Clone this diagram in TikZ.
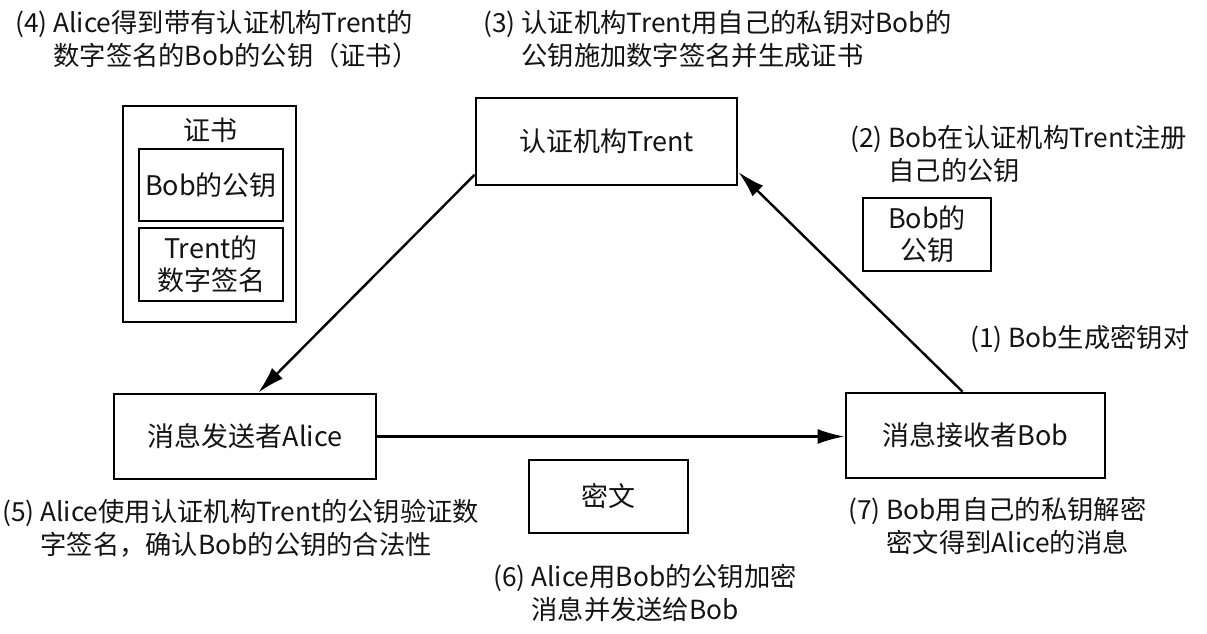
\documentclass[tikz,border=0pt]{standalone}
\usepackage{fontspec}
\setmainfont{Noto Sans CJK SC}
\usetikzlibrary{arrows.meta,calc}
% numbered caption with a hanging second line
\newcommand\steplbl[2]{#1\ \begin{tabular}[t]{@{}l@{}}#2\end{tabular}}

\begin{document}
\begin{tikzpicture}[x=1pt,y=-1pt,
  box/.style={draw=black,line width=2.8pt,inner sep=0pt,align=center,
    font=\fontsize{27}{32}\selectfont,text=black!92},
  lbl/.style={anchor=base west,inner sep=0pt,
    font=\fontsize{26.3}{33}\selectfont,text=black!92},
  conn/.style={line width=2.4pt,-{Latex[length=27pt,width=15pt]}}]
\useasboundingbox[fill=white] (0,0) rectangle (1207,634);

% parties
\node[box,minimum width=261pt,minimum height=87pt] (trent) at (606.5,141.5) {认证机构Trent};
\node[box,minimum width=262pt,minimum height=85pt] (alice) at (245,436.5) {消息发送者Alice};
\node[box,minimum width=259pt,minimum height=85pt] (bob) at (975.5,435.5) {消息接收者Bob};

% Bob's public key and the ciphertext
\node[box,minimum width=128pt,minimum height=73pt] (bobkey) at (927,234.5) {Bob的\\公钥};
\node[box,minimum width=159pt,minimum height=73pt] (cipher) at (608.5,496.5) {密文};

% certificate
\node[box,minimum width=173pt,minimum height=216pt] (cert) at (209.5,214) {};
\node[font=\fontsize{27}{32}\selectfont,text=black!92,inner sep=0pt] (certtitle) at (210,130) {证书};
\node[box,minimum width=144pt,minimum height=72pt] (certkey) at (211,185) {Bob的公钥};
\node[box,minimum width=144pt,minimum height=73pt] (certsig) at (211,264.5) {Trent的\\数字签名};

% connectors
\draw[conn] ($(trent.south west)!0.13!(trent.north west)$) -- ($(alice.north west)!0.55!(alice.north east)$);
\draw[conn] ($(bob.north west)!0.45!(bob.north east)$) -- ($(trent.south east)!0.16!(trent.north east)$);
\draw[conn] (alice.east) -- (alice.east -| bob.west);

% step captions
\node[lbl] (s1) at (970,347.5) {\steplbl{(1)}{Bob生成密钥对}};
\node[lbl] (s2) at (850,147.5) {\steplbl{(2)}{Bob在认证机构Trent注册\\自己的公钥}};
\node[lbl] (s3) at (483,32.5) {\steplbl{(3)}{认证机构Trent用自己的私钥对Bob的\\公钥施加数字签名并生成证书}};
\node[lbl] (s4) at (15,32.5) {\steplbl{(4)}{Alice得到带有认证机构Trent的\\数字签名的Bob的公钥（证书）}};
\node[lbl] (s5) at (2,521.5) {\steplbl{(5)}{Alice使用认证机构Trent的公钥验证数\\字签名，确认Bob的公钥的合法性}};
\node[lbl] (s6) at (493,586.5) {\steplbl{(6)}{Alice用Bob的公钥加密\\消息并发送给Bob}};
\node[lbl] (s7) at (848,519.5) {\steplbl{(7)}{Bob用自己的私钥解密\\密文得到Alice的消息}};
\end{tikzpicture}
\end{document}
